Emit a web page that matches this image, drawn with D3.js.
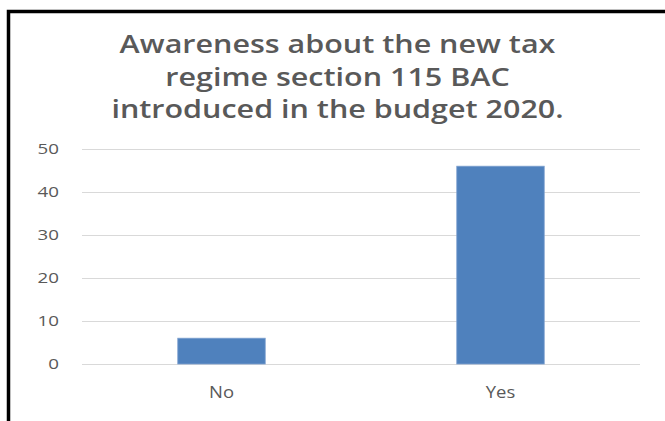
<!DOCTYPE html>
<html>
<head>
    <meta charset="UTF-8">
    <title>Awareness about the new tax regime</title>
    <script src="https://cdn.jsdelivr.net/npm/d3@7"></script>
    <style>
        body { margin: 0; background: #fff; }
        .grid line { stroke: #d9d9d9; stroke-width: 1px; shape-rendering: crispEdges; }
        .grid path { display: none; }
        .axis text { font-family: "Open Sans", sans-serif; fill: #595959; }
        .y.axis text { font-size: 15px; }
        .x.axis text { font-size: 16.5px; }
        .axis path, .axis line { display: none; }
        .title { font-family: "Open Sans", sans-serif; font-weight: 600; font-size: 25px; fill: #595959; }
    </style>
</head>
<body>
<script>
    var categories = ["No", "Yes"];
    var values = [6, 46];
    var yTicks = [0, 10, 20, 30, 40, 50];
    var titleLines = ["Awareness about the new tax", "regime section 115 BAC", "introduced in the budget 2020."];

    var W = 665, H = 421;
    var margin = {top: 149, right: 25, bottom: 57, left: 82},
        width = W - margin.left - margin.right,
        height = H - margin.top - margin.bottom;

    var svg = d3.select("body").append("svg")
        .attr("width", W)
        .attr("height", H);

    // frame, only left and top edges show
    svg.append("path")
        .attr("d", "M8.5," + H + " V11.5 H" + W)
        .attr("fill", "none")
        .attr("stroke", "#000")
        .attr("stroke-width", 3.5);

    // the source font is wide, so stretch the text sideways
    svg.selectAll("g.title")
        .data(titleLines)
        .enter().append("g")
        .attr("transform", (d, i) => `translate(337.5,${53 + i * 32.5}) scale(1.22,1)`)
        .append("text")
        .attr("class", "title")
        .attr("text-anchor", "middle")
        .text((d) => d);

    var g = svg.append("g")
        .attr("transform", `translate(${margin.left},${margin.top})`);

    var x = d3.scaleBand().domain(categories).range([0, width]).padding(0);
    var y = d3.scaleLinear().domain([0, 50]).range([height, 0]);

    g.append("g")
        .attr("class", "grid")
        .call(d3.axisLeft(y).tickValues(yTicks).tickSize(-width).tickFormat(""));

    g.append("g")
        .attr("class", "y axis")
        .attr("transform", "translate(-23,0)")
        .call(d3.axisLeft(y).tickValues(yTicks).tickSize(0).tickPadding(0))
        .selectAll("text")
        .attr("transform", "scale(1.25,1)");

    g.append("g")
        .attr("class", "x axis")
        .attr("transform", `translate(0,${height})`)
        .call(d3.axisBottom(x).tickSize(0).tickPadding(22))
        .selectAll("text")
        .attr("transform", "scale(1.12,1)");

    var barW = x.bandwidth() / 3.19;

    g.selectAll("rect.bar")
        .data(values)
        .enter().append("rect")
        .attr("class", "bar")
        .attr("x", (d, i) => x(categories[i]) + (x.bandwidth() - barW) / 2)
        .attr("y", (d) => y(d))
        .attr("width", barW)
        .attr("height", (d) => height - y(d))
        .attr("fill", "#4f81bd")
        .attr("stroke", "#7da0cf")
        .attr("stroke-width", 0.8);
</script>
</body>
</html>
